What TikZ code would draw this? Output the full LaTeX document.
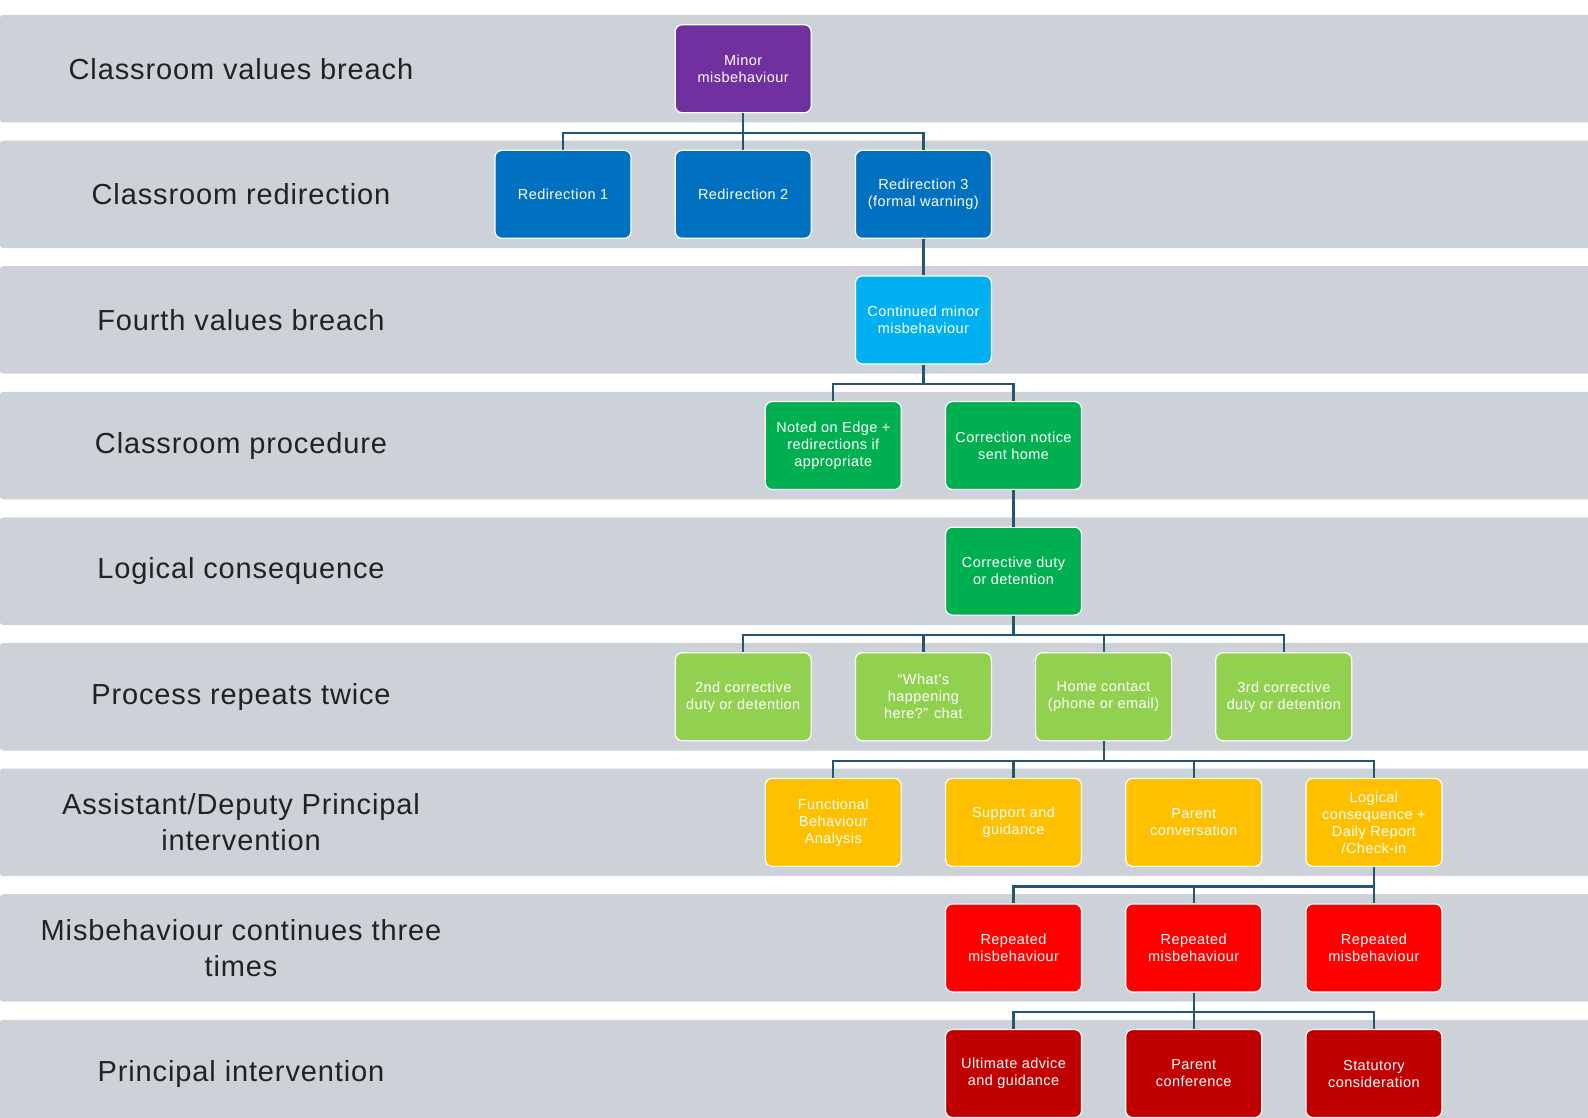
\documentclass[tikz,border=0pt]{standalone}
\usepackage{fontspec}
\setmainfont{Liberation Sans}
\newfontfamily\stagefont{Liberation Sans}[LetterSpace=3,WordSpace=1.6]
\newfontfamily\boxfont{Liberation Sans}[LetterSpace=3]
\definecolor{bandColor}{RGB}{205,210,217}
\definecolor{labelColor}{RGB}{34,34,34}
\definecolor{connColor}{RGB}{37,85,112}
\definecolor{purpleFill}{RGB}{112,48,160}
\definecolor{blueFill}{RGB}{0,112,192}
\definecolor{cyanFill}{RGB}{0,176,240}
\definecolor{greenFill}{RGB}{0,176,80}
\definecolor{limeFill}{RGB}{146,208,80}
\definecolor{goldFill}{RGB}{255,192,0}
\definecolor{redFill}{RGB}{255,0,0}
\definecolor{darkredFill}{RGB}{192,0,0}
\tikzset{
  band/.style={fill=bandColor,rounded corners=3pt},
  stage/.style={text=labelColor,align=center,inner sep=0pt,font=\stagefont\fontsize{29}{36}\selectfont},
  box/.style={draw=white,line width=1.2pt,rounded corners=7pt,minimum width=136pt,minimum height=88pt,
    inner sep=0pt,text=white,align=center,font=\boxfont\fontsize{14.5}{17}\selectfont},
  conn/.style={draw=connColor,line width=2.2pt},
  elbow/.style={to path={-- ++(0,19.6) -| (\tikztotarget)}}
}
\begin{document}
\begin{tikzpicture}[x=1pt,y=-1pt]
\path[use as bounding box,fill=white] (0,0) rectangle (1588,1118);
\begin{scope}
\path[clip] (0,0) rectangle (1588,1118);

% stage bands
\path[band] (0,  15.0) rectangle (1600, 122.5);
\path[band] (0, 140.6) rectangle (1600, 248.1);
\path[band] (0, 266.2) rectangle (1600, 373.7);
\path[band] (0, 391.8) rectangle (1600, 499.3);
\path[band] (0, 517.4) rectangle (1600, 624.9);
\path[band] (0, 643.0) rectangle (1600, 750.5);
\path[band] (0, 768.6) rectangle (1600, 876.1);
\path[band] (0, 894.2) rectangle (1600,1001.7);
\path[band] (0,1019.8) rectangle (1600,1140.0);

% stage labels
\node[stage] (lblValues)    at (241,  68.75) {Classroom values breach};
\node[stage] (lblRedirect)  at (241, 194.35) {Classroom redirection};
\node[stage] (lblFourth)    at (241, 319.95) {Fourth values breach};
\node[stage] (lblProcedure) at (241, 445.55) {Classroom procedure};
\node[stage] (lblLogical)   at (241, 571.15) {Logical consequence};
\node[stage] (lblRepeats)   at (241, 696.75) {Process repeats twice};
\node[stage] (lblDeputy)    at (241, 822.35) {Assistant/Deputy Principal\\intervention};
\node[stage] (lblThree)     at (241, 947.95) {Misbehaviour continues three\\times};
\node[stage] (lblPrincipal) at (241,1073.55) {Principal intervention};

% boxes
\node[box,fill=purpleFill] (minor)  at ( 743.2,  68.75) {Minor\\misbehaviour};

\node[box,fill=blueFill] (redirA) at ( 563.0, 194.35) {Redirection 1};
\node[box,fill=blueFill] (redirB) at ( 743.2, 194.35) {Redirection 2};
\node[box,fill=blueFill] (redirC) at ( 923.4, 194.35) {Redirection 3\\(formal warning)};

\node[box,fill=cyanFill] (continued) at ( 923.4, 319.95) {Continued minor\\misbehaviour};

\node[box,fill=greenFill] (noted)  at ( 833.3, 445.55) {Noted on Edge +\\redirections if\\appropriate};
\node[box,fill=greenFill] (notice) at (1013.5, 445.55) {Correction notice\\sent home};

\node[box,fill=greenFill] (duty) at (1013.5, 571.15) {Corrective duty\\or detention};

\node[box,fill=limeFill] (dutyTwo)   at ( 743.2, 696.75) {2nd corrective\\duty or detention};
\node[box,fill=limeFill] (chat)      at ( 923.4, 696.75) {“What’s\\happening\\here?” chat};
\node[box,fill=limeFill] (contact)   at (1103.6, 696.75) {Home contact\\(phone or email)};
\node[box,fill=limeFill] (dutyThree) at (1283.8, 696.75) {3rd corrective\\duty or detention};

\node[box,fill=goldFill] (fba)      at ( 833.3, 822.35) {Functional\\Behaviour\\Analysis};
\node[box,fill=goldFill] (support)  at (1013.5, 822.35) {Support and\\guidance};
\node[box,fill=goldFill] (parentC)  at (1193.7, 822.35) {Parent\\conversation};
\node[box,fill=goldFill] (report)   at (1373.9, 822.35) {Logical\\consequence +\\Daily Report\\/Check-in};

\node[box,fill=redFill] (repeatA) at (1013.5, 947.95) {Repeated\\misbehaviour};
\node[box,fill=redFill] (repeatB) at (1193.7, 947.95) {Repeated\\misbehaviour};
\node[box,fill=redFill] (repeatC) at (1373.9, 947.95) {Repeated\\misbehaviour};

\node[box,fill=darkredFill] (advice)     at (1013.5,1073.55) {Ultimate advice\\and guidance};
\node[box,fill=darkredFill] (conference) at (1193.7,1073.55) {Parent\\conference};
\node[box,fill=darkredFill] (statutory)  at (1373.9,1073.55) {Statutory\\consideration};

% connectors
\foreach \c in {redirA,redirB,redirC}
  \draw[conn] (minor.south) to[elbow] (\c.north);
\draw[conn] (redirC.south) -- (continued.north);
\foreach \c in {noted,notice}
  \draw[conn] (continued.south) to[elbow] (\c.north);
\draw[conn] (notice.south) -- (duty.north);
\foreach \c in {dutyTwo,chat,contact,dutyThree}
  \draw[conn] (duty.south) to[elbow] (\c.north);
\foreach \c in {fba,support,parentC,report}
  \draw[conn] (contact.south) to[elbow] (\c.north);
\foreach \c in {repeatA,repeatB,repeatC}
  \draw[conn] (report.south) to[elbow] (\c.north);
\foreach \c in {advice,conference,statutory}
  \draw[conn] (repeatB.south) to[elbow] (\c.north);
\end{scope}
\end{tikzpicture}
\end{document}
